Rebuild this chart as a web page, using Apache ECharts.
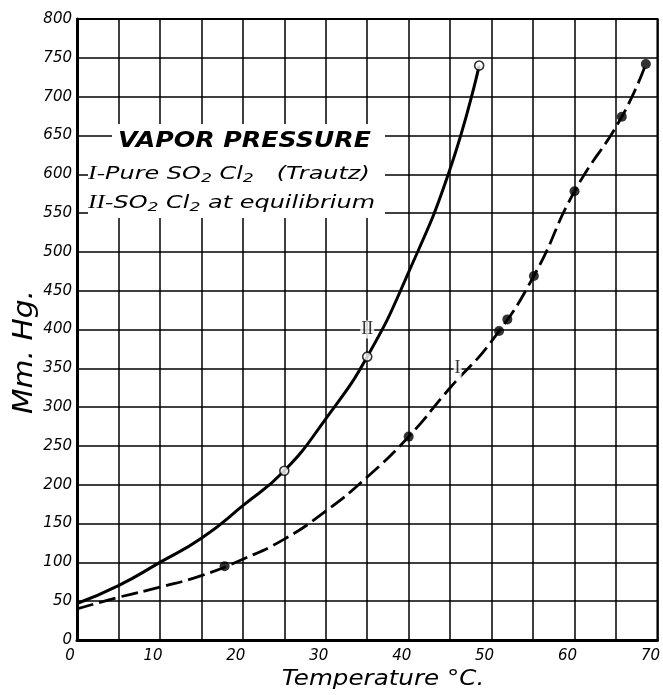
<!DOCTYPE html>
<html><head><meta charset="utf-8">
<script src="https://cdn.jsdelivr.net/npm/echarts@6/dist/echarts.min.js"></script>
<style>html,body{margin:0;padding:0;background:#fff}#c{width:663px;height:695px}</style>
</head><body><div id="c"></div>
<script>
// Temperature (°C) / pressure (mm Hg)
const curveI = [[0,40],[5,55],[10,68],[15,83],[20,104],[25,130],[30,166],[35,210],[40,262],[45,325],[50,385],[55.1,469],[60,578],[65.7,674],[68.6,742]];
const curveII = [[0,47],[5,70],[10,100],[15,131],[20,173],[25,218],[30,285],[35,365],[40,474],[45,607],[48.5,740]];
const pointsI = [[17.8,95],[40,262],[50.9,398],[51.9,413],[55.1,469],[60,578],[65.7,674],[68.6,742]];
const pointsII = [[25,218],[35,365],[48.5,740]];
const curveLabels = [[35,400,'II'],[45.9,350,'I']];
const xLabelStep = 10;

const FONT = '"DejaVu Sans", sans-serif';
const chart = echarts.init(document.getElementById('c'), null, {renderer:'canvas'});
const axisLabel = {color:'#000', fontStyle:'italic', fontFamily:FONT, fontSize:15};
const rich = {
  r:{fill:'#000', font:'italic 19px "Liberation Serif"'},
  t:{fill:'#000', font:'italic 18px "DejaVu Sans"'},
  s:{fill:'#000', font:'italic 13px "DejaVu Sans"', padding:[10,0,0,0]}
};
chart.setOption({
  animation:false,
  backgroundColor:'#fff',
  grid:{left:77, right:5, top:19, bottom:55, show:true, borderColor:'#000', borderWidth:2, containLabel:false},
  xAxis:{type:'value', min:0, max:70, interval:5,
    axisLine:{lineStyle:{color:'#000', width:3}},
    axisTick:{show:false},
    splitLine:{lineStyle:{color:'#000', width:1.5}},
    axisLabel:Object.assign({}, axisLabel, {margin:9, showMaxLabel:true, showMinLabel:true, padding:[0,14,0,0],
      formatter:v => (v % xLabelStep === 0 ? String(v) : '')})
  },
  yAxis:{type:'value', min:0, max:800, interval:50,
    axisLine:{lineStyle:{color:'#000', width:3}},
    axisTick:{show:false},
    splitLine:{lineStyle:{color:'#000', width:1.5}},
    axisLabel:Object.assign({}, axisLabel, {margin:5})
  },
  graphic:[
    {type:'rect', z:10, shape:{x:112, y:124, width:273, height:36}, style:{fill:'#fff'}},
    {type:'rect', z:10, shape:{x:88, y:158, width:297, height:60}, style:{fill:'#fff'}},
    {type:'text', z:11, x:118, y:142, scaleX:1.2, style:{text:'VAPOR PRESSURE', fill:'#000', font:'italic bold 21px "DejaVu Sans"', verticalAlign:'middle'}},
    {type:'text', z:11, x:88, y:174, scaleX:1.33, style:{
      text:'{r|I}{t|-Pure SO}{s|2}{t| Cl}{s|2}{t|   (Trautz)}', verticalAlign:'middle', rich:rich}},
    {type:'text', z:11, x:88, y:203, scaleX:1.33, style:{
      text:'{r|II}{t|-SO}{s|2}{t| Cl}{s|2}{t| at equilibrium}', verticalAlign:'middle', rich:rich}},
    {type:'text', z:11, x:25, y:352, rotation:Math.PI/2, scaleX:1.1, style:{text:'Mm. Hg.', fill:'#000', font:'italic 27px "DejaVu Sans"', align:'center', verticalAlign:'middle'}},
    {type:'text', z:11, x:383, y:680, scaleX:1.17, style:{text:'Temperature °C.', fill:'#000', font:'italic 21px "DejaVu Sans"', align:'center', verticalAlign:'middle'}}
  ],
  series:[
    {type:'line', name:'I', data:curveI, smooth:0.5, showSymbol:false, z:5,
      lineStyle:{color:'#000', width:2.8, type:[17,6]}},
    {type:'line', name:'II', data:curveII, smooth:0.5, showSymbol:false, z:5,
      lineStyle:{color:'#000', width:3}},
    {type:'scatter', data:pointsI, symbol:'circle', symbolSize:10, z:6,
      itemStyle:{color:'#000'}},
    {type:'scatter', data:pointsII, symbol:'circle', symbolSize:9, z:6,
      itemStyle:{color:'#fff', borderColor:'#000', borderWidth:1.6}},
    {type:'scatter', data:curveLabels, symbolSize:0, z:7,
      label:{show:true, position:'inside', formatter:p => p.data[2], color:'#000',
        fontFamily:'"Liberation Serif", serif', fontSize:18, backgroundColor:'#fff', padding:[0,1]}}
  ]
});
</script></body></html>
